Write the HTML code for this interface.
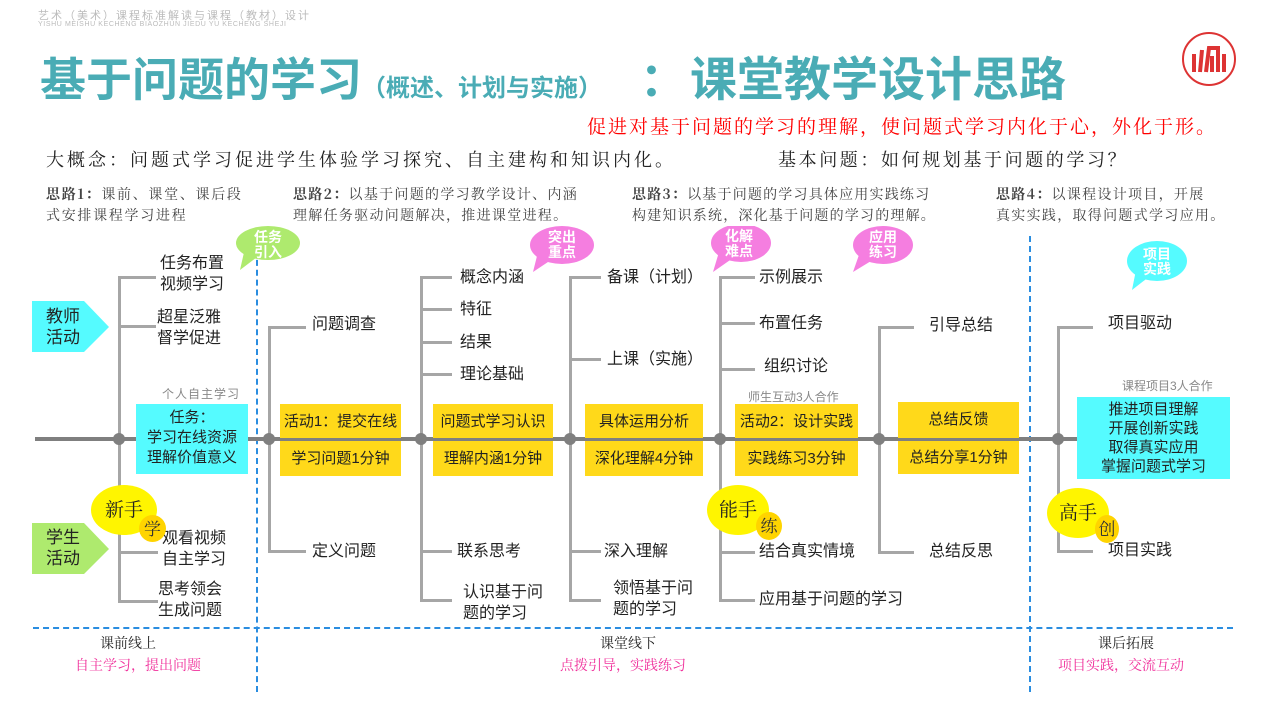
<!DOCTYPE html>
<html><head><meta charset="utf-8"><style>
body{margin:0;width:1268px;height:713px;background:#fff;position:relative;overflow:hidden;font-family:"Liberation Sans","Noto Sans CJK SC",sans-serif;color:#222}
.a{position:absolute;white-space:nowrap}
.v{position:absolute;width:3px;background:#a6a6a6}
.h{position:absolute;height:3px;background:#a6a6a6}
.t{position:absolute;font-size:16px;line-height:21px;white-space:nowrap;color:#222}
.y{position:absolute;background:#ffd91a;font-size:15px;text-align:center;color:#222}
.c{position:absolute;background:#55fbff;font-size:15px;text-align:center;line-height:20px;color:#222}
.dot{position:absolute;width:12px;height:12px;border-radius:50%;background:#7f7f7f}
.b{position:absolute;font-size:14px;line-height:15px;color:#fff;font-weight:bold;text-align:center;border-radius:50%}
.s{position:absolute;font-size:12px;color:#888;white-space:nowrap}
.e{position:absolute;background:#fff500;border-radius:50%;font-size:19px;font-family:"Noto Serif CJK SC",serif;text-align:center}
.sm{position:absolute;background:#ffd400;border-radius:50%;font-size:17px;font-family:"Noto Serif CJK SC",serif;text-align:center;color:#333}
.sr{font-family:"Noto Serif CJK SC","Noto Sans CJK SC",serif}
</style></head><body>
<div class="a" style="left:38px;top:7px;font-size:11px;color:#bbb;letter-spacing:2px">艺术（美术）课程标准解读与课程（教材）设计</div>
<div class="a" style="left:38px;top:21px;font-size:7px;color:#bbb;letter-spacing:0.6px">YISHU MEISHU KECHENG BIAOZHUN JIEDU YU KECHENG SHEJI</div>
<div class="a" style="left:40px;top:50px;font-size:46px;font-weight:bold;color:#4aacb5;line-height:60px">基于问题的学习<span style="font-size:24px">（概述、计划与实施）</span></div>
<div class="a" style="left:640px;top:50px;font-size:46px;font-weight:bold;color:#4aacb5;line-height:60px">：</div>
<div class="a" style="left:690px;top:50px;font-size:47px;font-weight:bold;color:#4aacb5;line-height:60px">课堂教学设计思路</div>
<svg class="a" style="left:1180px;top:30px" width="58" height="58"><circle cx="29" cy="29" r="26" fill="#fff" stroke="#d33" stroke-width="2"/><path d="M14 42 L14 24 M20 42 L22 20 M26 42 L29 18 L38 18 L38 42 M32 26 L32 42 M44 24 L44 42" stroke="#d33" stroke-width="4" fill="none"/></svg>
<div class="a sr" style="left:587px;top:112px;font-size:19px;letter-spacing:2px;color:#f00">促进对基于问题的学习的理解，使问题式学习内化于心，外化于形。</div>
<div class="a sr" style="left:46px;top:146px;font-size:18px;letter-spacing:3px">大概念：问题式学习促进学生体验学习探究、自主建构和知识内化。</div>
<div class="a sr" style="left:778px;top:146px;font-size:18px;letter-spacing:2.6px">基本问题：如何规划基于问题的学习？</div>
<div class="a sr" style="left:46px;top:184px;font-size:14px;line-height:21px;color:#444;letter-spacing:1.7px"><b>思路1：</b>课前、课堂、课后段<br>式安排课程学习进程</div>
<div class="a sr" style="left:293px;top:184px;font-size:14px;line-height:21px;color:#444;letter-spacing:1.3px"><b>思路2：</b>以基于问题的学习教学设计、内涵<br>理解任务驱动问题解决，推进课堂进程。</div>
<div class="a sr" style="left:632px;top:184px;font-size:14px;line-height:21px;color:#444;letter-spacing:1.2px"><b>思路3：</b>以基于问题的学习具体应用实践练习<br>构建知识系统，深化基于问题的学习的理解。</div>
<div class="a sr" style="left:996px;top:184px;font-size:14px;line-height:21px;color:#444;letter-spacing:1.3px"><b>思路4：</b>以课程设计项目，开展<br>真实实践，取得问题式学习应用。</div>

<div class="a" style="left:256px;top:240px;height:452px;border-left:2px dashed #2a8de0"></div>
<div class="a" style="left:1029px;top:236px;height:456px;border-left:2px dashed #2a8de0"></div>
<div class="a" style="left:33px;top:627px;width:1200px;border-top:2px dashed #2a8de0"></div>

<div class="a" style="left:35px;top:437px;width:1058px;height:4px;background:#7f7f7f"></div>

<div class="v" style="left:118px;top:276px;height:326px"></div>
<div class="h" style="left:118px;top:276px;width:38px"></div><div class="h" style="left:118px;top:325px;width:38px"></div>
<div class="h" style="left:118px;top:551px;width:40px"></div><div class="h" style="left:118px;top:600px;width:40px"></div>
<div class="v" style="left:268px;top:326px;height:227px"></div>
<div class="h" style="left:268px;top:326px;width:38px"></div><div class="h" style="left:268px;top:550px;width:38px"></div>
<div class="v" style="left:420px;top:276px;height:326px"></div>
<div class="h" style="left:420px;top:276px;width:32px"></div><div class="h" style="left:420px;top:308px;width:32px"></div><div class="h" style="left:420px;top:341px;width:32px"></div><div class="h" style="left:420px;top:373px;width:32px"></div><div class="h" style="left:420px;top:550px;width:32px"></div><div class="h" style="left:420px;top:599px;width:32px"></div>
<div class="v" style="left:569px;top:276px;height:326px"></div>
<div class="h" style="left:569px;top:276px;width:32px"></div><div class="h" style="left:569px;top:358px;width:32px"></div><div class="h" style="left:569px;top:550px;width:32px"></div><div class="h" style="left:569px;top:599px;width:32px"></div>
<div class="v" style="left:719px;top:276px;height:326px"></div>
<div class="h" style="left:719px;top:276px;width:36px"></div><div class="h" style="left:719px;top:322px;width:36px"></div><div class="h" style="left:719px;top:368px;width:36px"></div><div class="h" style="left:719px;top:551px;width:36px"></div><div class="h" style="left:719px;top:599px;width:36px"></div>
<div class="v" style="left:878px;top:326px;height:227px"></div>
<div class="h" style="left:878px;top:326px;width:36px"></div><div class="h" style="left:878px;top:551px;width:36px"></div>
<div class="v" style="left:1057px;top:326px;height:227px"></div>
<div class="h" style="left:1057px;top:326px;width:36px"></div><div class="h" style="left:1057px;top:550px;width:36px"></div>

<div class="dot" style="left:113px;top:433px"></div><div class="dot" style="left:263px;top:433px"></div><div class="dot" style="left:415px;top:433px"></div><div class="dot" style="left:564px;top:433px"></div><div class="dot" style="left:714px;top:433px"></div><div class="dot" style="left:873px;top:433px"></div><div class="dot" style="left:1052px;top:433px"></div>

<div class="t" style="left:160px;top:253px">任务布置<br>视频学习</div>
<div class="t" style="left:157px;top:307px">超星泛雅<br>督学促进</div>
<div class="t" style="left:162px;top:528px">观看视频<br>自主学习</div>
<div class="t" style="left:158px;top:579px">思考领会<br>生成问题</div>
<div class="t" style="left:312px;top:314px">问题调查</div>
<div class="t" style="left:312px;top:541px">定义问题</div>
<div class="t" style="left:460px;top:267px">概念内涵</div>
<div class="t" style="left:460px;top:299px">特征</div>
<div class="t" style="left:460px;top:332px">结果</div>
<div class="t" style="left:460px;top:364px">理论基础</div>
<div class="t" style="left:457px;top:541px">联系思考</div>
<div class="t" style="left:463px;top:582px">认识基于问<br>题的学习</div>
<div class="t" style="left:607px;top:267px">备课（计划）</div>
<div class="t" style="left:607px;top:349px">上课（实施）</div>
<div class="t" style="left:604px;top:541px">深入理解</div>
<div class="t" style="left:613px;top:578px">领悟基于问<br>题的学习</div>
<div class="t" style="left:759px;top:267px">示例展示</div>
<div class="t" style="left:759px;top:313px">布置任务</div>
<div class="t" style="left:764px;top:356px">组织讨论</div>
<div class="t" style="left:759px;top:541px">结合真实情境</div>
<div class="t" style="left:759px;top:589px">应用基于问题的学习</div>
<div class="t" style="left:929px;top:315px">引导总结</div>
<div class="t" style="left:929px;top:541px">总结反思</div>
<div class="t" style="left:1108px;top:313px">项目驱动</div>
<div class="t" style="left:1108px;top:540px">项目实践</div>

<div class="s" style="left:162px;top:385px;letter-spacing:1px">个人自主学习</div>
<div class="s" style="left:748px;top:388px">师生互动3人合作</div>
<div class="s" style="left:1122px;top:377px">课程项目3人合作</div>

<div class="c" style="left:136px;top:404px;width:112px;height:70px;padding-top:4px;box-sizing:border-box">任务：<br>学习在线资源<br>理解价值意义</div>
<div class="y" style="left:280px;top:404px;width:121px;height:34px;line-height:36px">活动1：提交在线</div>
<div class="y" style="left:280px;top:441px;width:121px;height:35px;line-height:36px">学习问题1分钟</div>
<div class="y" style="left:433px;top:404px;width:120px;height:34px;line-height:36px">问题式学习认识</div>
<div class="y" style="left:433px;top:441px;width:120px;height:35px;line-height:36px">理解内涵1分钟</div>
<div class="y" style="left:585px;top:404px;width:118px;height:34px;line-height:36px">具体运用分析</div>
<div class="y" style="left:585px;top:441px;width:118px;height:35px;line-height:36px">深化理解4分钟</div>
<div class="y" style="left:735px;top:404px;width:123px;height:34px;line-height:36px">活动2：设计实践</div>
<div class="y" style="left:735px;top:441px;width:123px;height:35px;line-height:36px">实践练习3分钟</div>
<div class="y" style="left:898px;top:402px;width:121px;height:36px;line-height:36px">总结反馈</div>
<div class="y" style="left:898px;top:441px;width:121px;height:33px;line-height:34px">总结分享1分钟</div>
<div class="c" style="left:1077px;top:397px;width:153px;height:82px;padding-top:3px;box-sizing:border-box;font-size:15px;line-height:19px">推进项目理解<br>开展创新实践<br>取得真实应用<br>掌握问题式学习</div>

<svg class="a" style="left:32px;top:301px" width="78" height="52"><polygon points="0,0 52,0 77,26 52,51 0,51" fill="#55fbff"/></svg>
<div class="t" style="left:46px;top:306px;font-size:17px;line-height:21px">教师<br>活动</div>
<svg class="a" style="left:32px;top:523px" width="78" height="52"><polygon points="0,0 52,0 77,26 52,51 0,51" fill="#aeea6e"/></svg>
<div class="t" style="left:46px;top:527px;font-size:17px;line-height:21px">学生<br>活动</div>

<svg class="a" style="left:235px;top:226px" width="70" height="50"><ellipse cx="33" cy="17" rx="32" ry="17" fill="#aeea6e"/><polygon points="10,22 26,28 5,44" fill="#aeea6e"/></svg>
<div class="b" style="left:250px;top:230px;width:36px">任务<br>引入</div>
<svg class="a" style="left:528px;top:226px" width="72" height="50"><ellipse cx="34" cy="19" rx="32" ry="19" fill="#f57ee0"/><polygon points="10,26 26,32 5,46" fill="#f57ee0"/></svg>
<div class="b" style="left:544px;top:230px;width:36px">突出<br>重点</div>
<svg class="a" style="left:705px;top:226px" width="72" height="50"><ellipse cx="36" cy="17" rx="30" ry="19" fill="#f57ee0"/><polygon points="14,26 28,32 8,46" fill="#f57ee0"/></svg>
<div class="b" style="left:721px;top:229px;width:36px">化解<br>难点</div>
<svg class="a" style="left:848px;top:226px" width="72" height="50"><ellipse cx="35" cy="19" rx="30" ry="19" fill="#f57ee0"/><polygon points="12,26 28,32 5,46" fill="#f57ee0"/></svg>
<div class="b" style="left:865px;top:230px;width:36px">应用<br>练习</div>
<svg class="a" style="left:1122px;top:240px" width="72" height="55"><ellipse cx="35" cy="21" rx="30" ry="20" fill="#55fbff"/><polygon points="14,30 28,36 10,50" fill="#55fbff"/></svg>
<div class="b" style="left:1139px;top:247px;width:36px">项目<br>实践</div>

<div class="e" style="left:91px;top:485px;width:66px;height:50px;line-height:48px">新手</div>
<div class="sm" style="left:139px;top:515px;width:27px;height:27px;line-height:25px">学</div>
<div class="e" style="left:707px;top:485px;width:62px;height:50px;line-height:48px">能手</div>
<div class="sm" style="left:756px;top:512px;width:26px;height:28px;line-height:26px">练</div>
<div class="e" style="left:1047px;top:488px;width:62px;height:50px;line-height:48px">高手</div>
<div class="sm" style="left:1095px;top:515px;width:24px;height:28px;line-height:26px">创</div>

<div class="a sr" style="left:100px;top:633px;font-size:14px">课前线上</div>
<div class="a sr" style="left:75px;top:655px;font-size:14px;color:#f0309b">自主学习，提出问题</div>
<div class="a sr" style="left:600px;top:633px;font-size:14px">课堂线下</div>
<div class="a sr" style="left:560px;top:655px;font-size:14px;color:#f0309b">点拨引导，实践练习</div>
<div class="a sr" style="left:1098px;top:633px;font-size:14px">课后拓展</div>
<div class="a sr" style="left:1058px;top:655px;font-size:14px;color:#f0309b">项目实践，交流互动</div>
</body></html>
